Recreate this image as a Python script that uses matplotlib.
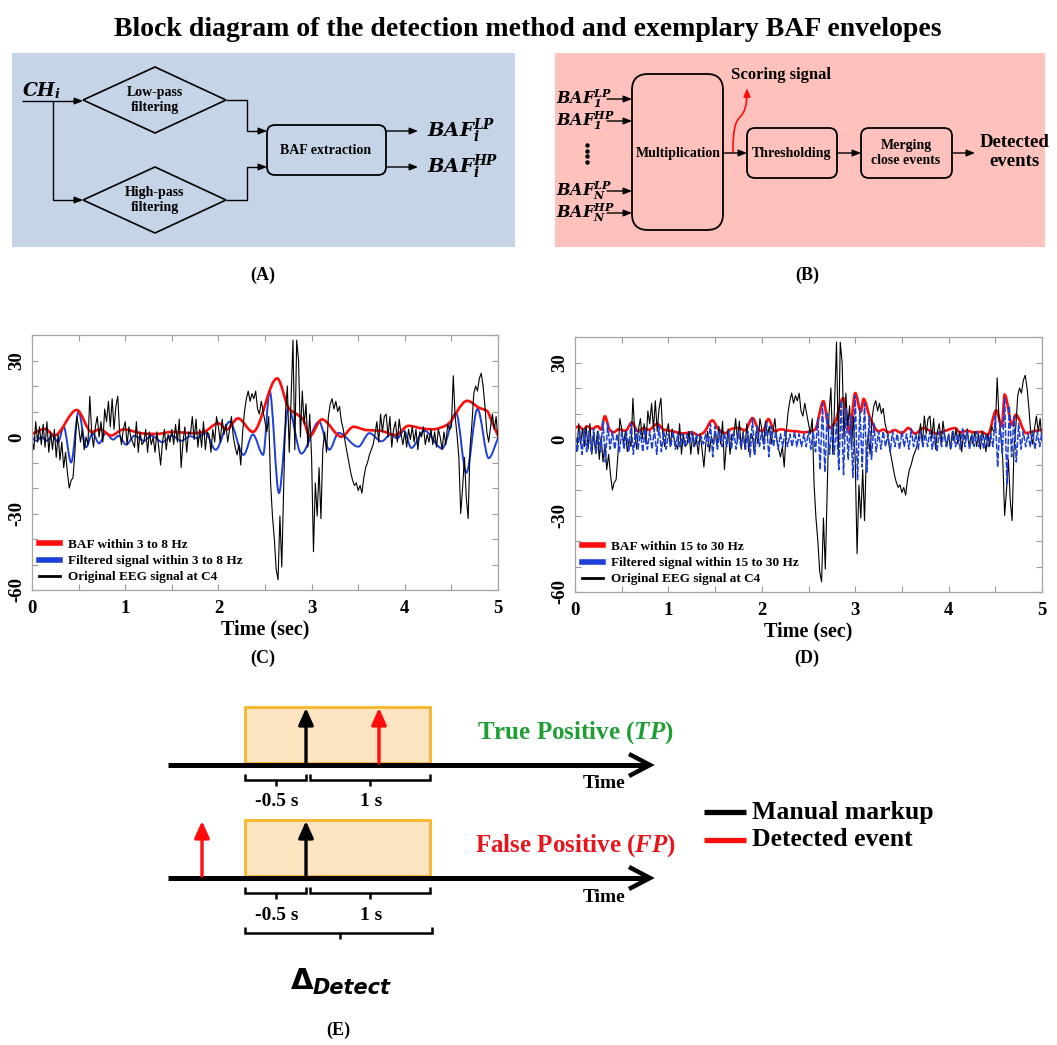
"""Detection method block diagram with BAF envelope examples"""
import numpy as np
import matplotlib
matplotlib.use('Agg')
import matplotlib.pyplot as plt
from matplotlib.path import Path
from matplotlib.patches import PathPatch, Polygon, FancyBboxPatch, Rectangle, FancyArrowPatch
from matplotlib.lines import Line2D
from matplotlib.ticker import MultipleLocator, FuncFormatter

plt.rcParams['font.family'] = 'Liberation Serif'
plt.rcParams['font.weight'] = 'bold'
plt.rcParams['axes.labelweight'] = 'bold'
plt.rcParams['mathtext.fontset'] = 'custom'
plt.rcParams['mathtext.rm'] = 'Liberation Serif:bold'
plt.rcParams['mathtext.it'] = 'Liberation Serif:italic:bold'
plt.rcParams['mathtext.bf'] = 'DejaVu Serif:bold'
plt.rcParams['mathtext.bfit'] = 'DejaVu Serif:italic:bold'

# EEG at C4, 5 s sampled every 0.02 s
eeg_v = [
    -1, -5, 6, -2, 4, -3, 5, -4, 6, -6,
    2, -5, 3, -8, 1, -9, -2, -12, -6, -14,
    -20, -17, -16, -6, 8, 4, -2, 3, -5, 0,
    -3, 16, 2, -4, 4, 8, 0, 6, -2, 11,
    6, 14, 4, 15, 3, 12, 16, 2, -3, 3,
    6, -3, 4, 0, -2, -4, 6, -6, 2, -3,
    -2, 3, -6, 2, -3, 0, -6, 2, -4, -11,
    -2, 3, -5, 1, -2, 3, -3, 5, -2, 7,
    -12, -2, 4, -6, 2, 1, 8, -1, 7, -4,
    3, -4, 6, -5, 2, 1, -6, 3, -2, 8,
    4, -2, 7, 1, 5, -2, 3, 8, 0, -4,
    -7, -3, -11, 2, 10, 15, 18, 14, 17, 15,
    18, 11, 9, 14, 10, 6, 2, 8, -18, -31,
    -40, -52, -56, -31, -51, -20, 10, 20, -6, 15,
    38, -5, 38, 30, 0, 18, 5, 13, -4, 9,
    -8, -45, -18, -31, -12, -32, -5, 2, -6, 8,
    13, 15, 11, 14, 10, 12, 6, 3, -2, -6,
    -10, -14, -17, -19, -18, -21, -19, -22, -16, -12,
    -10, -7, -5, -3, 1, 6, -2, 9, 2, 8,
    9, 0, 8, -4, 3, 6, -2, 7, 1, -3,
    2, -4, 3, -1, 4, -2, 3, -5, 2, 0,
    4, -3, 1, -2, 3, -3, 2, -4, 3, 0,
    -5, 2, -3, 5, 3, 4, 24, 8, 1, -8,
    -30, -20, -8, -24, -32, -4, 5, 17, 20, 18,
    23, 25, 20, 12, 2, -2, 4, 9, 3, 8,
    -1,
]
eeg_t = np.linspace(0, 5, len(eeg_v))

# 3-8 Hz band: envelope (BAF) and filtered signal, turning points
baf_lo_t = [0.00, 0.14, 0.24, 0.48, 0.64, 0.73, 0.85, 0.98, 1.19, 1.34, 1.50, 1.73,
            1.84, 2.00, 2.09, 2.21, 2.37, 2.63, 2.76, 2.84, 2.91, 2.98, 3.11, 3.32,
            3.45, 3.59, 3.73, 3.90, 4.04, 4.18, 4.30, 4.45, 4.67, 4.80, 4.88, 4.94, 5.00]
baf_lo_v = [1.2, 3.2, 0.6, 10.6, 2.0, 3.0, 0.6, 3.0, 1.4, 1.2, 2.0, 1.5,
            2.0, 5.4, 3.0, 7.3, 2.0, 23.0, 11.0, 9.0, 6.8, 0.4, 6.9, 0.1,
            4.0, 2.7, 2.5, 0.8, 4.4, 3.4, 3.0, 4.7, 14.2, 11.4, 10.3, 5.5, 0.5]
filt_lo_t = [0.00, 0.05, 0.10, 0.16, 0.22, 0.28, 0.34, 0.42, 0.50, 0.58, 0.65, 0.72,
             0.79, 0.87, 0.93, 1.01, 1.10, 1.20, 1.28, 1.40, 1.50, 1.60, 1.70, 1.77,
             1.86, 1.97, 2.12, 2.27, 2.37, 2.48, 2.55, 2.65, 2.75, 2.89, 3.08, 3.19,
             3.29, 3.50, 3.62, 3.75, 3.85, 3.92, 3.99, 4.07, 4.21, 4.40, 4.55, 4.66,
             4.78, 4.90, 5.00]
filt_lo_v = [-0.5, -1.5, 0.0, -1.5, 0.5, -2.0, 4.0, -10.0, 10.0, -4.0, 1.5, -2.5,
             1.5, -1.0, 0.5, -3.0, 0.5, -1.5, 0.5, -2.0, 0.5, -1.5, 0.3, -0.5,
             1.5, -5.0, 6.0, -7.0, 1.0, -7.0, 18.0, -22.0, 11.5, -6.5, 6.0, -5.0,
             1.6, -3.8, 1.5, -1.7, 1.0, -0.5, 2.5, -4.3, 2.5, -4.5, 9.5, -14.0,
             11.0, -8.3, -0.5]

# 15-30 Hz band
baf_hi_t = [0.00, 0.04, 0.09, 0.13, 0.18, 0.24, 0.28, 0.32, 0.37, 0.41, 0.47, 0.54,
            0.61, 0.67, 0.74, 0.79, 0.88, 0.95, 1.05, 1.15, 1.25, 1.32, 1.38, 1.47,
            1.54, 1.61, 1.68, 1.75, 1.82, 1.90, 1.97, 2.01, 2.07, 2.14, 2.20, 2.30,
            2.38, 2.45, 2.52, 2.57, 2.66, 2.72, 2.78, 2.87, 2.94, 3.00, 3.06, 3.09,
            3.16, 3.25, 3.30, 3.36, 3.42, 3.50, 3.57, 3.64, 3.73, 3.80, 3.87, 3.95,
            4.07, 4.12, 4.20, 4.27, 4.35, 4.42, 4.51, 4.57, 4.60, 4.68, 4.72, 4.83,
            4.90, 5.00]
baf_hi_v = [4.3, 5.0, 3.7, 5.0, 4.0, 5.0, 3.7, 8.9, 3.7, 2.6, 3.8, 3.2,
            6.5, 3.2, 4.3, 3.6, 5.9, 3.7, 3.0, 2.2, 2.6, 1.5, 2.6, 7.3,
            3.7, 2.3, 4.0, 4.3, 3.4, 8.2, 3.5, 3.0, 7.8, 3.0, 3.8, 3.2,
            3.0, 2.6, 3.0, 3.7, 14.8, 4.3, 6.3, 16.0, 2.3, 18.0, 10.8, 15.7,
            8.2, 3.0, 3.7, 2.6, 3.5, 2.3, 4.3, 2.1, 4.3, 3.2, 2.1, 3.0,
            4.3, 2.6, 3.2, 2.6, 2.8, 1.7, 11.2, 5.0, 17.4, 5.6, 9.5, 2.3,
            3.0, 3.6]
filt_hi_v = [
    4, -5, 3, -6, 4, -5, 3, -5, 4, -6, 3, -5,
    7, -9, 6,
    -4, 3, -4, 2, -5, 3, -4, 3,
    -5, 6, -6, 4,
    -4, 3, -5, 4, -4, 3, -4, 4,
    -6, 5, -5,
    3, -4, 2, -3, 3, -4, 2, -3, 2, -3, 2, -2, 3, -3, 2, -2, 1, -2, 2, -3,
    6, -7, 5, -4,
    3, -3, 2, -3, 3, -4, 3, -4, 3, -3, 2, -4, 3,
    -7, 8, -6, 5,
    -3, 3, -4,
    7, -7, 5,
    -3, 3, -4, 2, -3, 3, -3, 2, -3, 3, -3, 2, -3, 2, -3, 3, -4, 3,
    -5, 8, -12, 14, -13, 10, -6,
    5, -6, 6,
    -12, 15, -14, 12, -8,
    9, -15, 17, -16, 12,
    -11, 14, -13, 9,
    -8, 6, -5, 3,
    -4, 3, -3, 2, -5, 3, -3, 2, -4, 3,
    -3, 2, -4, 4, -3, 2, -4, 3, -3, 2,
    -3, 3, -4, 2, -5, 3, -3, 3, -3, 2,
    -4, 3, -3, 2, -4, 4, -3, 3, -4, 2,
    -3, 3, -3, 2, -4, 2, -3, 2, -3,
    9, -11, 7,
    -6, 16, -18, 13,
    -7, 9, -9, 6,
    -4, 3, -3, 2, -3, 3, -4, 3, -3, 3,
]
filt_hi_t = np.linspace(0, 5, len(filt_hi_v))

legend_lo = ['BAF within 3 to 8 Hz', 'Filtered signal within 3 to 8 Hz',
             'Original EEG signal at C4']
legend_hi = ['BAF within 15 to 30 Hz', 'Filtered signal within 15 to 30 Hz',
             'Original EEG signal at C4']

RED = '#ff0d0d'
BLUE = '#1c3fd8'


def smooth_path(t, v):
    # cubic Bezier through the turning points, flat at each peak/trough
    t = np.asarray(t, float)
    v = np.asarray(v, float)
    d = np.diff(v) / np.diff(t)
    m = np.zeros_like(v)
    m[0], m[-1] = d[0], d[-1]
    for i in range(1, len(v) - 1):
        if d[i - 1] * d[i] > 0:
            m[i] = 2 * d[i - 1] * d[i] / (d[i - 1] + d[i])
    verts = [(t[0], v[0])]
    codes = [Path.MOVETO]
    for i in range(len(t) - 1):
        h = (t[i + 1] - t[i]) / 3
        verts += [(t[i] + h, v[i] + m[i] * h), (t[i + 1] - h, v[i + 1] - m[i + 1] * h),
                  (t[i + 1], v[i + 1])]
        codes += [Path.CURVE4] * 3
    return Path(verts, codes)


fig = plt.figure(figsize=(10.57, 10.45), dpi=100)

# overlay in pixel units for the diagrams and labels
d = fig.add_axes([0, 0, 1, 1], zorder=0)
d.set_xlim(0, 1057)
d.set_ylim(1045, 0)
d.axis('off')


def arrow(x0, y0, x1, y1, lw=1.0, hl=0.5, hw=0.2, color='k'):
    d.annotate('', xy=(x1, y1), xytext=(x0, y0),
               arrowprops=dict(arrowstyle=f'-|>,head_length={hl},head_width={hw}',
                               lw=lw, color=color, shrinkA=0, shrinkB=0))


def line(xs, ys, lw=1.0, color='k'):
    d.plot(xs, ys, color=color, lw=lw, solid_capstyle='butt', solid_joinstyle='miter')


def rbox(x, y, w, h, r):
    d.add_patch(FancyBboxPatch((x, y), w, h, boxstyle=f'round,pad=0,rounding_size={r}',
                               fc='none', ec='k', lw=1.3))


d.text(528, 30, 'Block diagram of the detection method and exemplary BAF envelopes',
       ha='center', va='center', fontsize=20)

# ---- (A) filtering stage
d.add_patch(Rectangle((12, 53), 503, 194, fc='#c6d4e8', ec='none'))
d.text(22, 91, r'$\mathbfit{CH}_{\mathbfit{i}}$', ha='left', va='center', fontsize=13.5)
line([22, 80], [101, 101])
arrow(75, 101, 83, 101)
line([53, 53, 80], [101, 200, 200])
arrow(75, 200, 83, 200)
for cy, txt in [(100, 'Low-pass\nfiltering'), (200, 'High-pass\nfiltering')]:
    d.add_patch(Polygon([(83, cy), (155, cy - 33), (226, cy), (155, cy + 33)],
                        closed=True, fc='none', ec='k', lw=1.2))
    d.text(155, cy, txt, ha='center', va='center', fontsize=10, linespacing=1.25)
line([226, 247, 247, 262], [100, 100, 131, 131])
arrow(258, 131, 267, 131)
line([226, 247, 247, 262], [200, 200, 167, 167])
arrow(258, 167, 267, 167)
rbox(267, 125, 119, 50, 8)
d.text(326, 150, 'BAF extraction', ha='center', va='center', fontsize=10)
arrow(386, 131, 418, 131)
arrow(386, 167, 418, 167)
d.text(427, 131, r'$\mathbfit{BAF}_{\mathbfit{i}}^{\mathbfit{LP}}$', ha='left', va='center', fontsize=14)
d.text(427, 167, r'$\mathbfit{BAF}_{\mathbfit{i}}^{\mathbfit{HP}}$', ha='left', va='center', fontsize=14)
d.text(263, 275, '(A)', ha='center', va='center', fontsize=13)

# ---- (B) multiplication, thresholding and merging
d.add_patch(Rectangle((555, 53), 490, 194, fc='#fec1bc', ec='none'))
for y, sub, sup in [(99, '1', 'LP'), (121, '1', 'HP'), (191, 'N', 'LP'), (213, 'N', 'HP')]:
    d.text(556, y, r'$\mathbfit{BAF}_{\mathbfit{%s}}^{\mathbfit{%s}}$' % (sub, sup),
           ha='left', va='center', fontsize=11.5)
    arrow(607, y, 632, y)
d.plot([587] * 4, [145, 150.5, 156, 161.5], 'o', color='k', ms=2.2)
rbox(632, 74, 91, 156, 16)
d.text(678, 153, 'Multiplication', ha='center', va='center', fontsize=10)
arrow(723, 153, 747, 153)
score = Path([(733, 152), (733, 130), (735, 122), (740, 117),
              (745, 112), (747, 105), (747, 88)],
             [Path.MOVETO] + [Path.CURVE4] * 6)
d.add_patch(FancyArrowPatch(path=score, arrowstyle='-|>,head_length=0.5,head_width=0.2',
                            mutation_scale=10, color=RED, lw=1.2, transform=d.transData))
d.text(781, 75, 'Scoring signal', ha='center', va='center', fontsize=12)
rbox(747, 128, 90, 50, 8)
d.text(792, 153, 'Thresholding', ha='center', va='center', fontsize=10)
arrow(837, 153, 861, 153)
rbox(861, 128, 91, 50, 8)
d.text(906, 153, 'Merging\nclose events', ha='center', va='center', fontsize=10,
       linespacing=1.3)
arrow(952, 153, 975, 153)
d.text(1015, 152, 'Detected\nevents', ha='center', va='center', fontsize=13.5,
       linespacing=1.1)
d.text(807, 275, '(B)', ha='center', va='center', fontsize=13)


# ---- (C), (D) EEG traces
def eeg_panel(rect, baf_t, baf_v, filt_t, filt_v, smooth_filt, labels):
    ax = fig.add_axes(rect, zorder=1)
    ax.plot(eeg_t, eeg_v, color='k', lw=0.8)
    if smooth_filt:
        ax.add_patch(PathPatch(smooth_path(filt_t, filt_v), fill=False, ec=BLUE, lw=1.4))
    else:
        ax.plot(filt_t, filt_v, color=BLUE, lw=1.1, ls=(0, (4, 1.2)))
    ax.add_patch(PathPatch(smooth_path(baf_t, baf_v), fill=False, ec=RED, lw=1.9))
    ax.set_xlim(0, 5)
    ax.set_ylim(-60, 40)
    ax.xaxis.set_major_locator(MultipleLocator(0.5))
    ax.yaxis.set_major_locator(MultipleLocator(10))
    ax.xaxis.set_major_formatter(FuncFormatter(
        lambda x, p: f'{x:.0f}' if abs(x - round(x)) < 1e-6 else ''))
    ax.yaxis.set_major_formatter(FuncFormatter(
        lambda y, p: f'{y:.0f}' if round(y) % 30 == 0 else ''))
    ax.tick_params(direction='in', top=True, right=True, length=4, width=0.8,
                   color='#9a9a9a', labelsize=13.5, pad=7)
    ax.tick_params(axis='y', labelrotation=90, pad=5)
    for lab in ax.get_yticklabels():
        lab.set_va('center')
    for s in ax.spines.values():
        s.set_color('#a5a5a5')
        s.set_linewidth(0.9)
    ax.set_xlabel('Time (sec)', fontsize=14.5, labelpad=2, weight='bold')
    handles = [Line2D([], [], color=RED, lw=4), Line2D([], [], color=BLUE, lw=4),
               Line2D([], [], color='k', lw=2)]
    ax.legend(handles, labels, loc='lower left', frameon=False, fontsize=9.5,
              handlelength=1.6, handletextpad=0.6, labelspacing=0.3,
              borderaxespad=0.3, borderpad=0.2)
    return ax


eeg_panel([32 / 1057, 1 - 590 / 1045, 466 / 1057, 255 / 1045],
          baf_lo_t, baf_lo_v, filt_lo_t, filt_lo_v, True, legend_lo)
eeg_panel([575 / 1057, 1 - 592 / 1045, 467 / 1057, 255 / 1045],
          baf_hi_t, baf_hi_v, filt_hi_t, filt_hi_v, False, legend_hi)
d.text(263, 658, '(C)', ha='center', va='center', fontsize=13)
d.text(807, 658, '(D)', ha='center', va='center', fontsize=13)

# ---- (E) scoring rule on the time line
for y0, label, col in [(765, r'True Positive ($TP$)', '#1f9e34'),
                       (878, r'False Positive ($FP$)', '#e8141c')]:
    d.add_patch(Rectangle((245, y0 - 58), 185, 56, fc='#fde4c0', ec='#f7b52b', lw=2))
    line([168, 647], [y0, y0], lw=3.6)
    line([629, 650, 629], [y0 - 11, y0, y0 + 11], lw=3.2)
    d.text(604, y0 + 19, 'Time', ha='center', va='center', fontsize=14)
    d.text(575, y0 - 32, label, ha='center', va='center', fontsize=18, color=col)
    line([245, 245, 306, 306], [y0 + 9, y0 + 15, y0 + 15, y0 + 9], lw=1.8)
    line([276, 276], [y0 + 15, y0 + 21], lw=1.8)
    line([310, 310, 430, 430], [y0 + 9, y0 + 15, y0 + 15, y0 + 9], lw=1.8)
    line([370, 370], [y0 + 15, y0 + 21], lw=1.8)
    d.text(277, y0 + 37, '-0.5 s', ha='center', va='center', fontsize=14)
    d.text(371, y0 + 37, '1 s', ha='center', va='center', fontsize=14)
    arrow(306, y0 - 2, 306, y0 - 57, lw=2.4, hl=1.0, hw=0.45)

arrow(379, 763, 379, 708, lw=2.4, hl=1.0, hw=0.45, color=RED)
arrow(202, 876, 202, 821, lw=2.4, hl=1.0, hw=0.45, color=RED)

line([245, 245, 432, 432], [927, 933, 933, 927], lw=1.8)
line([340, 340], [933, 939], lw=1.8)
d.text(302, 981, 'Δ', ha='center', va='center', fontsize=21, family='DejaVu Sans',
       weight='bold')
d.text(313, 988, 'Detect', ha='left', va='center', fontsize=15, family='DejaVu Sans',
       weight='bold', style='italic')

line([704, 746], [812, 812], lw=3.8)
line([704, 746], [840, 840], lw=3.8, color=RED)
d.text(752, 812, 'Manual markup', ha='left', va='center', fontsize=18.5)
d.text(752, 840, 'Detected event', ha='left', va='center', fontsize=18.5)
d.text(338, 1030, '(E)', ha='center', va='center', fontsize=13)

fig.savefig('out.png', dpi=100)
